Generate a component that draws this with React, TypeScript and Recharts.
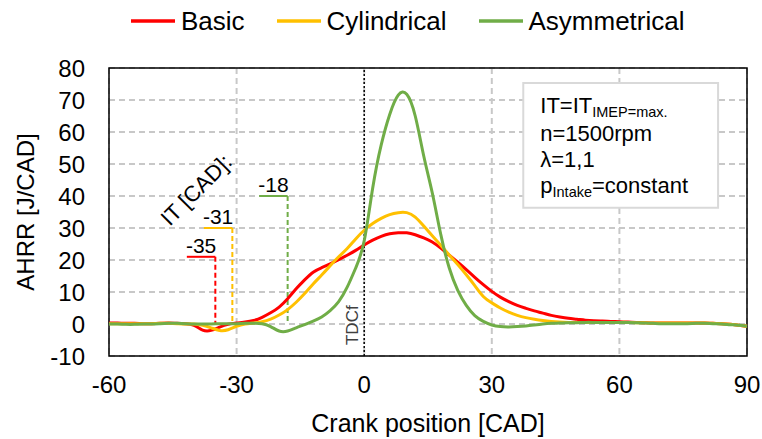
import React from 'react';
import {
  LineChart,
  Line,
  XAxis,
  YAxis,
  CartesianGrid,
  ReferenceLine,
  ReferenceArea,
  ReferenceDot,
  Legend,
} from 'recharts';

const FONT = '"Liberation Sans", Arial, sans-serif';

// crank angle [CAD], step 2
const crank = [
  -60, -58, -56, -54, -52, -50, -48, -46, -44, -42, -40, -38, -36, -34, -32, -30, -28, -26, -24, -22,
  -20, -18, -16, -14, -12, -10, -8, -6, -4, -2, 0, 2, 4, 6, 8, 10, 12, 14, 16, 18,
  20, 22, 24, 26, 28, 30, 32, 34, 36, 38, 40, 42, 44, 46, 48, 50, 52, 54, 56, 58,
  60, 62, 64, 66, 68, 70, 72, 74, 76, 78, 80, 82, 84, 86, 88, 90,
];

// apparent heat release rate [J/CAD]
const basic = [
  0.3, 0.3, 0.2, 0.2, 0.1, 0.1, 0.2, 0.3, 0.2, 0.1, -0.4, -1.9, -2.0, -1.0, -0.1, 0.3, 0.6, 1.1, 2.1, 3.5,
  5.3, 7.9, 11.0, 13.8, 16.2, 17.6, 18.8, 20.1, 21.5, 23.0, 24.7, 26.2, 27.4, 28.2, 28.5, 28.5, 27.9, 26.9, 25.6, 23.7,
  21.5, 19.3, 17.0, 14.6, 12.3, 10.2, 8.4, 7.0, 5.8, 4.9, 4.1, 3.4, 2.7, 2.2, 1.8, 1.5, 1.2, 1.0, 0.9, 0.8,
  0.7, 0.6, 0.5, 0.4, 0.3, 0.3, 0.3, 0.3, 0.3, 0.3, 0.3, 0.2, 0.1, -0.1, -0.4, -0.7,
];
const cylindrical = [
  0.1, 0.1, 0.1, 0.1, 0.1, 0.1, 0.2, 0.2, 0.1, 0.0, 0.0, -0.4, -1.2, -2.0, -1.8, -0.7, 0.0, 0.3, 0.7, 1.5,
  2.8, 4.5, 6.8, 9.5, 12.5, 15.3, 18.2, 21.0, 23.6, 26.6, 29.3, 31.4, 33.0, 34.2, 34.8, 34.8, 33.4, 30.6, 27.6, 24.6,
  21.6, 18.6, 15.4, 12.0, 8.6, 6.6, 5.0, 3.7, 2.7, 2.0, 1.5, 1.1, 0.8, 0.6, 0.5, 0.5, 0.5, 0.5, 0.5, 0.5,
  0.5, 0.5, 0.4, 0.4, 0.3, 0.3, 0.3, 0.3, 0.3, 0.3, 0.3, 0.2, 0.1, -0.1, -0.4, -0.7,
];
const asymmetrical = [
  0.0, 0.0, -0.1, -0.1, 0.0, 0.0, 0.1, 0.2, 0.2, 0.1, 0.0, 0.0, 0.0, 0.1, 0.1, 0.1, 0.2, 0.2, 0.1, -0.8,
  -2.2, -2.2, -1.2, -0.2, 0.9, 2.2, 4.2, 7.0, 11.5, 17.5, 26.0, 42.5, 56.0, 65.5, 71.5, 71.8, 65.0, 52.5, 41.0, 28.0,
  17.5, 10.5, 5.8, 2.6, 0.8, -0.3, -0.8, -0.9, -0.8, -0.6, -0.3, 0.0, 0.2, 0.3, 0.4, 0.4, 0.5, 0.5, 0.5, 0.5,
  0.5, 0.5, 0.4, 0.3, 0.2, 0.1, 0.1, 0.1, 0.1, 0.2, 0.2, 0.1, 0.0, -0.2, -0.4, -0.7,
];

const seriesKeys = ['basic', 'cylindrical', 'asymmetrical'];
const seriesNames = ['Basic', 'Cylindrical', 'Asymmetrical'];

const xTicks = [-60, -30, 0, 30, 60, 90];
const yTicks = [-10, 0, 10, 20, 30, 40, 50, 60, 70, 80];

// ignition timing per geometry and the height of its marker
const ignitionAngles = [-35, -31, -18];
const ignitionLevels = [21, 30, 40];

const COLORS = ['#FF0000', '#FFC000', '#70AD47'];
const GRID = '#c8c8c8';
const MARKER_TAIL = 6.7;

// text box corners in axis units
const BOX_X = [37.4, 83.2];
const BOX_Y = [36.3, 75.3];

const data = crank.map((x, i) => ({
  x,
  basic: basic[i],
  cylindrical: cylindrical[i],
  asymmetrical: asymmetrical[i],
}));

const renderLegend = () => (
  <div
    style={{
      display: 'flex',
      alignItems: 'center',
      paddingLeft: 131,
      height: 34,
      fontFamily: FONT,
      fontSize: 26,
      color: '#000',
    }}
  >
    {seriesNames.map((name, i) => (
      <div key={name} style={{ display: 'flex', alignItems: 'center', marginRight: 32 }}>
        <svg width={44} height={4}>
          <line x1={0} y1={2} x2={44} y2={2} stroke={COLORS[i]} strokeWidth={3.5} />
        </svg>
        <span style={{ marginLeft: 6 }}>{name}</span>
      </div>
    ))}
  </div>
);

const yLabel = (props: any) => {
  const { x, y, height } = props.viewBox;
  const cx = x + 25;
  const cy = y + height / 2;
  return (
    <text
      x={cx}
      y={cy}
      transform={`rotate(-90, ${cx}, ${cy})`}
      textAnchor="middle"
      dominantBaseline="central"
      fontSize={24}
      fontFamily={FONT}
      fill="#000"
    >
      AHRR [J/CAD]
    </text>
  );
};

const xLabel = (props: any) => {
  const { x, y, width } = props.viewBox;
  return (
    <text
      x={x + width / 2}
      y={y + 67}
      textAnchor="middle"
      dominantBaseline="central"
      fontSize={25}
      fontFamily={FONT}
      fill="#000"
    >
      Crank position [CAD]
    </text>
  );
};

const tdcLabel = (props: any) => {
  const { x, y, height } = props.viewBox;
  const tx = x - 6;
  const ty = y + height - 11;
  return (
    <text
      x={tx}
      y={ty}
      transform={`rotate(-90, ${tx}, ${ty})`}
      textAnchor="start"
      fontSize={17}
      fontFamily={FONT}
      fill="#404040"
    >
      TDCf
    </text>
  );
};

const boxText = (props: any) => {
  const { x, y } = props.viewBox;
  const tx = x + 17;
  return (
    <g fontFamily={FONT} fill="#000">
      <text x={tx} y={y + 30} fontSize={22}>
        IT=IT
        <tspan fontSize={14.5} dy={3.5}>
          IMEP=max.
        </tspan>
      </text>
      <text x={tx} y={y + 57.7} fontSize={22}>
        n=1500rpm
      </text>
      <text x={tx} y={y + 84.3} fontSize={22}>
        λ=1,1
      </text>
      <text x={tx} y={y + 110.3} fontSize={22}>
        p
        <tspan fontSize={14.5} dy={3.5}>
          Intake
        </tspan>
        <tspan dy={-3.5}>=constant</tspan>
      </text>
    </g>
  );
};

const itCaption = (props: any) => (
  <text
    x={props.cx}
    y={props.cy}
    transform={`rotate(-45, ${props.cx}, ${props.cy})`}
    textAnchor="middle"
    dominantBaseline="central"
    fontSize={22}
    fontFamily={FONT}
    fill="#000"
  >
    IT [CAD]:
  </text>
);

const tickStyle = { fontSize: 24, fill: '#000', fontFamily: FONT };

export default function App() {
  return (
    <div style={{ position: 'absolute', left: 0, top: 0, background: '#fff' }}>
      <LineChart
        width={762}
        height={439}
        data={data}
        margin={{ top: 68, right: 15, bottom: 0, left: 0 }}
        style={{ fontFamily: FONT }}
      >
        <CartesianGrid
          stroke={GRID}
          strokeWidth={2}
          strokeDasharray="6 4"
          horizontalValues={yTicks}
          verticalValues={xTicks}
        />
        <XAxis
          dataKey="x"
          type="number"
          domain={[-60, 90]}
          ticks={xTicks}
          interval={0}
          height={83}
          axisLine={false}
          tickLine={false}
          tickSize={0}
          tickMargin={20}
          tick={tickStyle}
          label={xLabel}
        />
        <YAxis
          type="number"
          domain={[-10, 80]}
          ticks={yTicks}
          interval={0}
          width={109}
          axisLine={false}
          tickLine={false}
          tickSize={0}
          tickMargin={24}
          tick={tickStyle}
          label={yLabel}
        />
        <Legend
          verticalAlign="middle"
          align="center"
          layout="horizontal"
          wrapperStyle={{ top: 4, left: 0, width: 762 }}
          content={renderLegend}
        />
        <ReferenceLine x={0} stroke="#000" strokeWidth={1.5} strokeDasharray="2 2" label={tdcLabel} />
        <ReferenceArea x1={-60} x2={90} y1={-10} y2={80} fill="none" stroke="#000" strokeWidth={1.5} />
        {ignitionAngles.map((it, i) => (
          <ReferenceLine
            key={`tail${it}`}
            segment={[
              { x: it - MARKER_TAIL, y: ignitionLevels[i] },
              { x: it, y: ignitionLevels[i] },
            ]}
            stroke={COLORS[i]}
            strokeWidth={2}
            label={{ value: String(it), position: 'top', offset: 4, fontSize: 21, fill: '#000', fontFamily: FONT }}
          />
        ))}
        {ignitionAngles.map((it, i) => (
          <ReferenceLine
            key={`drop${it}`}
            segment={[
              { x: it, y: ignitionLevels[i] },
              { x: it, y: 0 },
            ]}
            stroke={COLORS[i]}
            strokeWidth={2}
            strokeDasharray="5 3"
          />
        ))}
        <ReferenceDot x={-39.5} y={41.9} r={0} shape={itCaption} />
        {seriesKeys.map((key, i) => (
          <Line
            key={key}
            type="natural"
            dataKey={key}
            name={seriesNames[i]}
            stroke={COLORS[i]}
            strokeWidth={3}
            dot={false}
            isAnimationActive={false}
          />
        ))}
        <ReferenceArea
          x1={BOX_X[0]}
          x2={BOX_X[1]}
          y1={BOX_Y[0]}
          y2={BOX_Y[1]}
          fill="#fff"
          fillOpacity={1}
          stroke="#d9d9d9"
          strokeWidth={2}
          label={boxText}
        />
      </LineChart>
    </div>
  );
}
